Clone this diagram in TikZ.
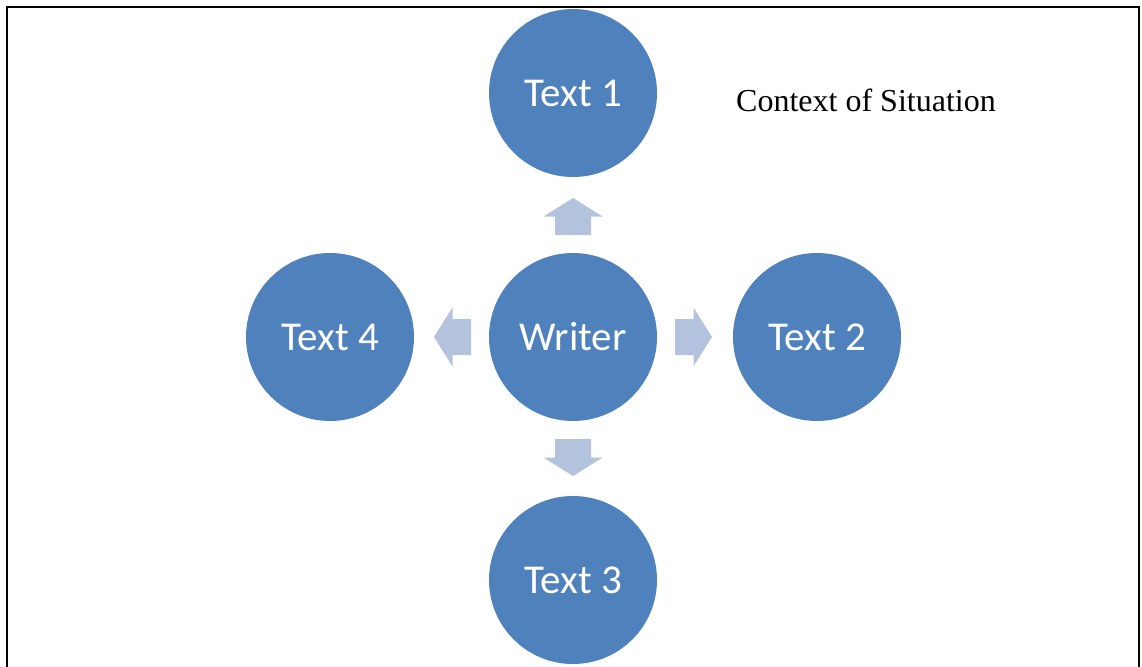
\documentclass[tikz,border=0pt]{standalone}
\usepackage{fontspec}
\setmainfont{Liberation Serif}
\newfontfamily\calibrilike{Carlito}
\definecolor{circblue}{HTML}{4F81BD}
\definecolor{arrowblue}{HTML}{B3C3DE}
\begin{document}
\begin{tikzpicture}[x=1pt,y=-1pt,
  bubble/.style={circle,fill=circblue,minimum size=168pt,inner sep=0pt,
    text=white,font=\calibrilike\fontsize{41}{49}\selectfont},
  label/.style={font=\fontsize{32}{38}\selectfont,anchor=base west,inner sep=0pt},
  frame/.style={line width=1.8pt,draw=black},
  blockarrow/.pic={
    \fill[arrowblue] (102pt,-18pt) -- (120.5pt,-18pt) -- (120.5pt,-29.5pt)
      -- (139pt,0pt) -- (120.5pt,29.5pt) -- (120.5pt,18pt) -- (102pt,18pt) -- cycle;
  }]
  \useasboundingbox (0,0) rectangle (1142,666);
  \clip (0,0) rectangle (1142,666);
  % outer frame, open at the bottom edge
  \draw[frame] (7,670) -- (7,7) -- (1139,7) -- (1139,670);

  % circles
  \node[bubble] (writer) at (573,337) {Writer};
  \node[bubble] (t1) at (573,93) {Text 1};
  \node[bubble] (t2) at (817,337) {Text 2};
  \node[bubble] (t3) at (573,580) {Text 3};
  \node[bubble] (t4) at (330,337) {Text 4};

  % block arrows radiating from the writer
  \pic[rotate=0] at (writer.center) {blockarrow};
  \pic[rotate=90] at (writer.center) {blockarrow};
  \pic[rotate=180] at (writer.center) {blockarrow};
  \pic[rotate=270] at (writer.center) {blockarrow};

  % caption
  \node[label] (ctx) at (736,112) {Context of Situation};
\end{tikzpicture}
\end{document}
